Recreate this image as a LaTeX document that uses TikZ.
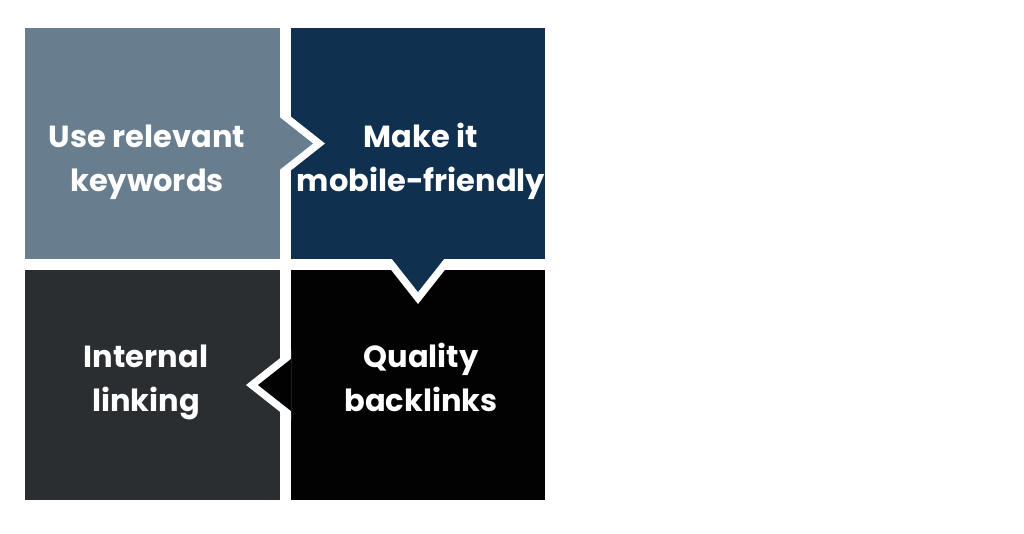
\documentclass[tikz,border=0pt]{standalone}
\usepackage{fontspec}
\setmainfont{Poppins}
\definecolor{cA}{HTML}{687D8E}
\definecolor{cB}{HTML}{10304F}
\definecolor{cC}{HTML}{020202}
\definecolor{cD}{HTML}{2B2E31}
\tikzset{
  lbl/.style={text=white, align=center, font=\fontsize{30.5}{44}\selectfont\bfseries,
    inner sep=0pt, text height=24pt, text depth=8pt},
  gapw/.style={fill=white, draw=none},
}
\begin{document}
\begin{tikzpicture}[x=1pt,y=-1pt]
\useasboundingbox[fill=white] (0,0) rectangle (1024,533);
% boxes
\fill[cA] (25,28) rectangle (280,259);
\fill[cB] (291,28) rectangle (545,259);
\fill[cC] (291,270) rectangle (545,500);
\fill[cD] (25,270) rectangle (280,500);
% arrow A -> B
\fill[gapw] (280,108) -- (325,143.5) -- (280,179) -- cycle;
\fill[cA] (280,117.5) -- (313,143.5) -- (280,169.5) -- cycle;
% arrow B -> C
\fill[gapw] (382.5,259) -- (418,304) -- (453.5,259) -- cycle;
\fill[cB] (392,259) -- (418,292) -- (444,259) -- cycle;
% arrow C -> D
\fill[gapw] (291,349.5) -- (246,385) -- (291,420.5) -- cycle;
\fill[cC] (291,359) -- (258,385) -- (291,411) -- cycle;
% labels
\node[lbl] (tA) at (147,183) {Use relevant\\keywords};
\node[lbl] (tB) at (421,183) {Make it\\mobile-friendly};
\node[lbl] (tC) at (421,403) {Quality\\backlinks};
\node[lbl] (tD) at (146,403) {Internal\\linking};
\end{tikzpicture}
\end{document}
